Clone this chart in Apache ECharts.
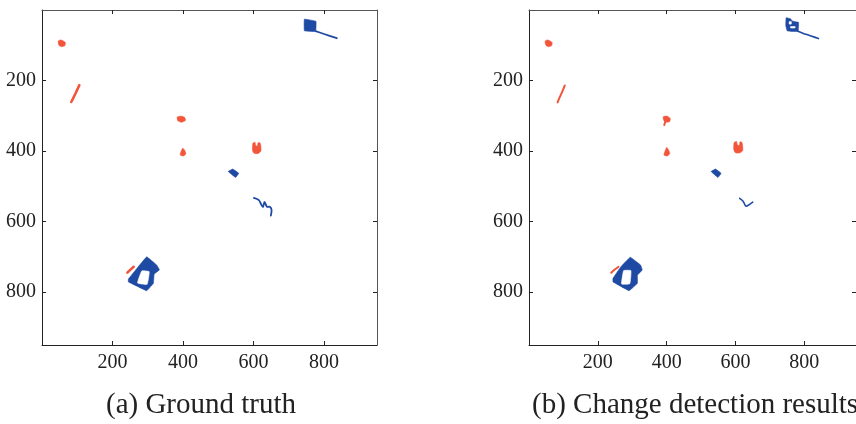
<!DOCTYPE html>
<html>
<head>
<meta charset="utf-8">
<script src="https://cdn.jsdelivr.net/npm/echarts@6/dist/echarts.min.js"></script>
<style>
  html, body { margin: 0; padding: 0; background: #fff; }
  #chart { width: 856px; height: 424px; }
</style>
</head>
<body>
<div id="chart"></div>
<script>
// image pixel coordinates (x right, y down), 0..950 on both axes
const tickValues = [200, 400, 600, 800]
const captions = ['(a) Ground truth', '(b) Change detection results']

// (a) ground truth
const gtRedBlobs = [
  [[46, 88], [52, 85], [59, 87], [66, 92], [65, 101], [56, 104], [48, 100]],
  [[383, 304], [394, 301], [404, 304], [407, 313], [397, 318], [386, 315]],
  [[399, 392], [404, 397], [408, 408], [401, 414], [392, 411], [394, 402]],
  [[598, 378], [604, 375], [606, 384], [611, 386], [613, 376], [619, 378], [621, 399], [613, 407], [601, 406], [597, 398]],
]
const gtRedStrokes = [
  [[106, 213], [99, 228], [91, 245], [83, 261]],
  [[242, 745], [251, 736], [260, 728]],
]
const gtBlueBlobs = [
  [[744, 26], [777, 32], [776, 61], [744, 59]],
  [[528, 458], [541, 451], [558, 463], [549, 475]],
  [[297, 700], [325, 723], [333, 737], [318, 749], [316, 775], [297, 796], [245, 771], [245, 763], [269, 733]],
]
const gtBlueHoles = [
  [[283, 740], [304, 742], [298, 778], [271, 774]],
]
const gtBlueStrokes = [
  [[776, 60], [800, 68], [836, 80]],
  [[601, 533], [615, 539], [622, 552], [627, 558], [631, 544], [638, 558], [646, 558], [651, 567], [649, 583]],
]

// (b) change detection results
const cdRedBlobs = [
  [[47, 88], [53, 85], [60, 87], [67, 92], [66, 101], [57, 104], [49, 100]],
  [[390, 303], [401, 301], [410, 307], [409, 316], [400, 318], [392, 314]],
  [[400, 390], [405, 396], [409, 407], [402, 414], [392, 411], [395, 401]],
  [[596, 376], [603, 373], [605, 382], [611, 384], [613, 374], [619, 376], [621, 398], [613, 405], [600, 405], [595, 396]],
]
const cdRedStrokes = [
  [[104, 214], [97, 231], [89, 248], [83, 262]],
  [[396, 316], [393, 326]],
  [[239, 745], [249, 736], [260, 728]],
]
const cdBlueBlobs = [
  [[747, 22], [760, 25], [764, 31], [783, 35], [782, 60], [762, 61], [750, 59], [746, 44]],
  [[529, 458], [542, 451], [558, 463], [549, 475]],
  [[294, 701], [324, 723], [329, 737], [315, 752], [315, 775], [291, 796], [244, 771], [244, 761], [267, 728]],
]
const cdBlueHoles = [
  [[275, 739], [296, 739], [293, 776], [269, 777]],
  [[756, 33], [762, 33], [762, 40], [756, 40]],
  [[760, 47], [773, 47], [773, 51], [760, 51]],
]
const cdBlueStrokes = [
  [[781, 60], [805, 69], [841, 81]],
  [[612, 534], [622, 542], [630, 556], [640, 552], [650, 545]],
]

const RED = '#f2553a'
const BLUE = '#1f4aa3'
const FONT = '"Liberation Serif", "DejaVu Serif", serif'

const shapeSeries = (shapes, kind, color, idx, width, smooth) => ({
  type: 'custom',
  coordinateSystem: 'cartesian2d',
  xAxisIndex: idx * 2,
  yAxisIndex: idx * 2,
  silent: true,
  animation: false,
  clip: false,
  encode: { x: 0, y: 1 },
  data: shapes.map((s, i) => [s[0][0], s[0][1], i]),
  renderItem: (params, api) => {
    const pts = shapes[params.dataIndex].map(p => api.coord(p))
    if (kind === 'line') {
      return {
        type: 'polyline',
        shape: { points: pts, smooth: 0.3 },
        style: { stroke: color, lineWidth: width, fill: null, lineCap: 'round', lineJoin: 'round' }
      }
    }
    return {
      type: 'polygon',
      shape: { points: pts, smooth: smooth || 0 },
      style: { fill: color, stroke: color, lineWidth: 0.6 }
    }
  }
})

const panels = [42, 529]
const grid = panels.map(l => ({ left: l, top: 10, width: 335, height: 335 }))

const xAxis = []
const yAxis = []
panels.forEach((l, p) => {
  const base = {
    gridIndex: p, type: 'value', min: 0, max: 950,
    splitLine: { show: false },
    axisLine: { show: true, onZero: false, lineStyle: { color: '#222', width: 1 } },
    axisTick: { show: true, inside: true, length: 4, customValues: tickValues, lineStyle: { color: '#222' } },
  }
  xAxis.push(Object.assign({}, base, {
    position: 'bottom',
    axisLabel: { customValues: tickValues, margin: 8, color: '#222', fontSize: 20, fontFamily: FONT }
  }))
  xAxis.push(Object.assign({}, base, {
    position: 'top',
    axisLine: { show: true, onZero: false, lineStyle: { color: '#555', width: 1 } },
    axisLabel: { show: false }
  }))
  yAxis.push(Object.assign({}, base, {
    position: 'left', inverse: true,
    axisLabel: { customValues: tickValues, margin: 6, color: '#222', fontSize: 20, fontFamily: FONT }
  }))
  yAxis.push(Object.assign({}, base, {
    position: 'right', inverse: true,
    axisLine: { show: true, onZero: false, lineStyle: { color: '#555', width: 1 } },
    axisLabel: { show: false }
  }))
})

const series = [
  shapeSeries(gtRedBlobs, 'fill', RED, 0, 0, 0.2),
  shapeSeries(gtRedStrokes, 'line', RED, 0, 2.5),
  shapeSeries(gtBlueBlobs, 'fill', BLUE, 0, 0, 0.05),
  shapeSeries(gtBlueHoles, 'fill', '#fff', 0, 0, 0.1),
  shapeSeries(gtBlueStrokes, 'line', BLUE, 0, 1.8),
  shapeSeries(cdRedBlobs, 'fill', RED, 1, 0, 0.2),
  shapeSeries(cdRedStrokes, 'line', RED, 1, 2),
  shapeSeries(cdBlueBlobs, 'fill', BLUE, 1, 0, 0.05),
  shapeSeries(cdBlueHoles, 'fill', '#fff', 1, 0, 0.1),
  shapeSeries(cdBlueStrokes, 'line', BLUE, 1, 1.6),
]

const chart = echarts.init(document.getElementById('chart'), null, { renderer: 'canvas' })
chart.setOption({
  backgroundColor: '#fff',
  animation: false,
  title: [
    { text: captions[0], left: 196, textAlign: 'center', top: 386,
      textStyle: { fontFamily: FONT, fontSize: 29, fontWeight: 'normal', color: '#222' } },
    { text: captions[1], left: 527, top: 386,
      textStyle: { fontFamily: FONT, fontSize: 29, fontWeight: 'normal', color: '#222' } },
  ],
  grid,
  xAxis,
  yAxis,
  series
})
window.addEventListener('resize', () => chart.resize())
</script>
</body>
</html>
